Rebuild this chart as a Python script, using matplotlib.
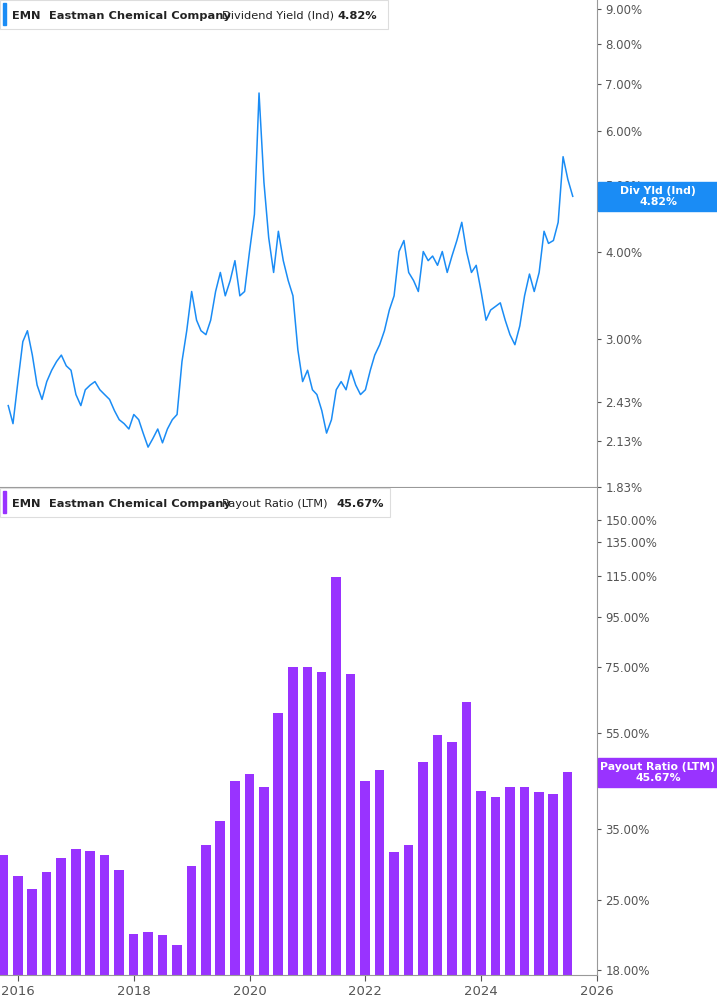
import numpy as np
import pandas as pd
import matplotlib.pyplot as plt
from matplotlib.ticker import FixedLocator, NullLocator

# monthly dividend yield (%), Sep 2015 .. Aug 2025
div_yield = [2.40, 2.26, 2.60, 2.97, 3.08, 2.84, 2.57, 2.45, 2.60, 2.70, 2.78, 2.84,
             2.74, 2.70, 2.49, 2.40, 2.53, 2.57, 2.60, 2.53, 2.49, 2.45, 2.36, 2.29,
             2.26, 2.22, 2.33, 2.29, 2.19, 2.09, 2.15, 2.22, 2.12, 2.22, 2.29, 2.33,
             2.78, 3.08, 3.51, 3.19, 3.08, 3.04, 3.19, 3.51, 3.74, 3.46, 3.64, 3.89,
             3.46, 3.51, 4.01, 4.54, 6.80, 5.05, 4.20, 3.74, 4.29, 3.89, 3.64, 3.46,
             2.89, 2.60, 2.70, 2.53, 2.49, 2.36, 2.19, 2.29, 2.53, 2.60, 2.53, 2.70,
             2.57, 2.49, 2.53, 2.70, 2.84, 2.94, 3.08, 3.30, 3.46, 4.01, 4.16, 3.74,
             3.64, 3.51, 4.01, 3.89, 3.95, 3.83, 4.01, 3.74, 3.95, 4.16, 4.42, 4.01,
             3.74, 3.83, 3.51, 3.19, 3.30, 3.34, 3.38, 3.19, 3.04, 2.94, 3.13, 3.46,
             3.72, 3.51, 3.74, 4.29, 4.12, 4.16, 4.42, 5.50, 5.10, 4.82]
yield_dates = pd.date_range(end="2025-08-01", periods=len(div_yield), freq="MS")

# quarterly payout ratio (LTM, %), Q3 2015 .. Q2 2025
payout = [30.9, 28.0, 26.4, 28.6, 30.5, 31.8, 31.5, 30.9, 28.8, 21.3,
          21.5, 21.2, 20.3, 29.4, 32.4, 36.3, 43.8, 45.3, 42.7, 60.4,
          75.0, 75.0, 73.2, 114.6, 72.6, 43.8, 46.1, 31.4, 32.5, 47.9,
          54.4, 52.7, 63.6, 41.9, 40.6, 42.7, 42.7, 41.6, 41.2, 45.67]
payout_dates = pd.date_range(start="2015-09-30", periods=len(payout), freq="QE")

top_ticks = [1.83, 2.13, 2.43, 3.0, 4.0, 5.0, 6.0, 7.0, 8.0, 9.0]
bot_ticks = [18, 25, 35, 55, 75, 95, 115, 135, 150]

blue = "#1a8cf5"
purple = "#9933ff"
W, H = 717, 1005

fig = plt.figure(figsize=(W / 100, H / 100), dpi=100)
ax1 = fig.add_axes([0, (H - 487) / H, 597 / W, 487 / H])
ax2 = fig.add_axes([0, 30 / H, 597 / W, 487 / H])

x0, x1 = pd.Timestamp("2015-09-10"), pd.Timestamp("2026-01-01")

def style(ax, ticks, lo, hi):
    ax.set_yscale("log")
    ax.set_ylim(lo, hi)
    ax.set_xlim(x0, x1)
    ax.yaxis.tick_right()
    ax.yaxis.set_major_locator(FixedLocator(ticks))
    ax.yaxis.set_minor_locator(NullLocator())
    ax.set_yticklabels([f"{t:.2f}%" for t in ticks])
    ax.tick_params(axis="y", labelsize=8.5, colors="#555555", length=3, pad=3)
    for s in ["top", "left"]:
        ax.spines[s].set_visible(False)
    ax.spines["right"].set_color("#999999")
    ax.spines["bottom"].set_color("#999999")

ax1.plot(yield_dates, div_yield, color=blue, lw=1.1)
style(ax1, top_ticks, 1.83, 9.27)
ax1.set_xticks([])

ax2.bar(payout_dates, payout, width=60, color=purple)
style(ax2, bot_ticks, 17.6, 174)
years = [pd.Timestamp(f"{y}-01-01") for y in range(2016, 2027, 2)]
ax2.set_xticks(years)
ax2.set_xticklabels([str(y.year) for y in years])
ax2.tick_params(axis="x", labelsize=9.5, colors="#555555", length=4)

def legend(ax, color, label, val, val_x, box_w):
    px = lambda p: p / 597
    ax.add_patch(plt.Rectangle((0, 0.94), px(box_w), 0.06, transform=ax.transAxes,
                               fc="white", ec="#dddddd", lw=0.8, clip_on=False, zorder=5))
    ax.add_patch(plt.Rectangle((px(3), 0.948), px(3), 0.045, transform=ax.transAxes,
                               color=color, clip_on=False, zorder=6))
    kw = dict(transform=ax.transAxes, fontsize=8.2, va="center", color="#222222", zorder=7)
    ax.text(px(12), 0.968, "EMN", fontweight="bold", **kw)
    ax.text(px(49), 0.968, "Eastman Chemical Company", fontweight="bold", **kw)
    ax.text(px(222), 0.968, label, **kw)
    ax.text(px(val_x), 0.968, val, fontweight="bold", **kw)

legend(ax1, blue, "Dividend Yield (Ind)", "4.82%", 337, 388)
legend(ax2, purple, "Payout Ratio (LTM)", "45.67%", 336, 390)

def tag(y_px, h_px, color, text):
    fig.patches.append(plt.Rectangle((598 / W, 1 - (y_px + h_px) / H), 119 / W, h_px / H,
                                     transform=fig.transFigure, color=color, zorder=10))
    fig.text(658 / W, 1 - (y_px + h_px / 2) / H, text, color="white", fontsize=7.8,
             fontweight="bold", ha="center", va="center", linespacing=1.05, zorder=11)

tag(182, 29, blue, "Div Yld (Ind)\n4.82%")
tag(758, 29, purple, "Payout Ratio (LTM)\n45.67%")

fig.savefig("out.png", dpi=100)
